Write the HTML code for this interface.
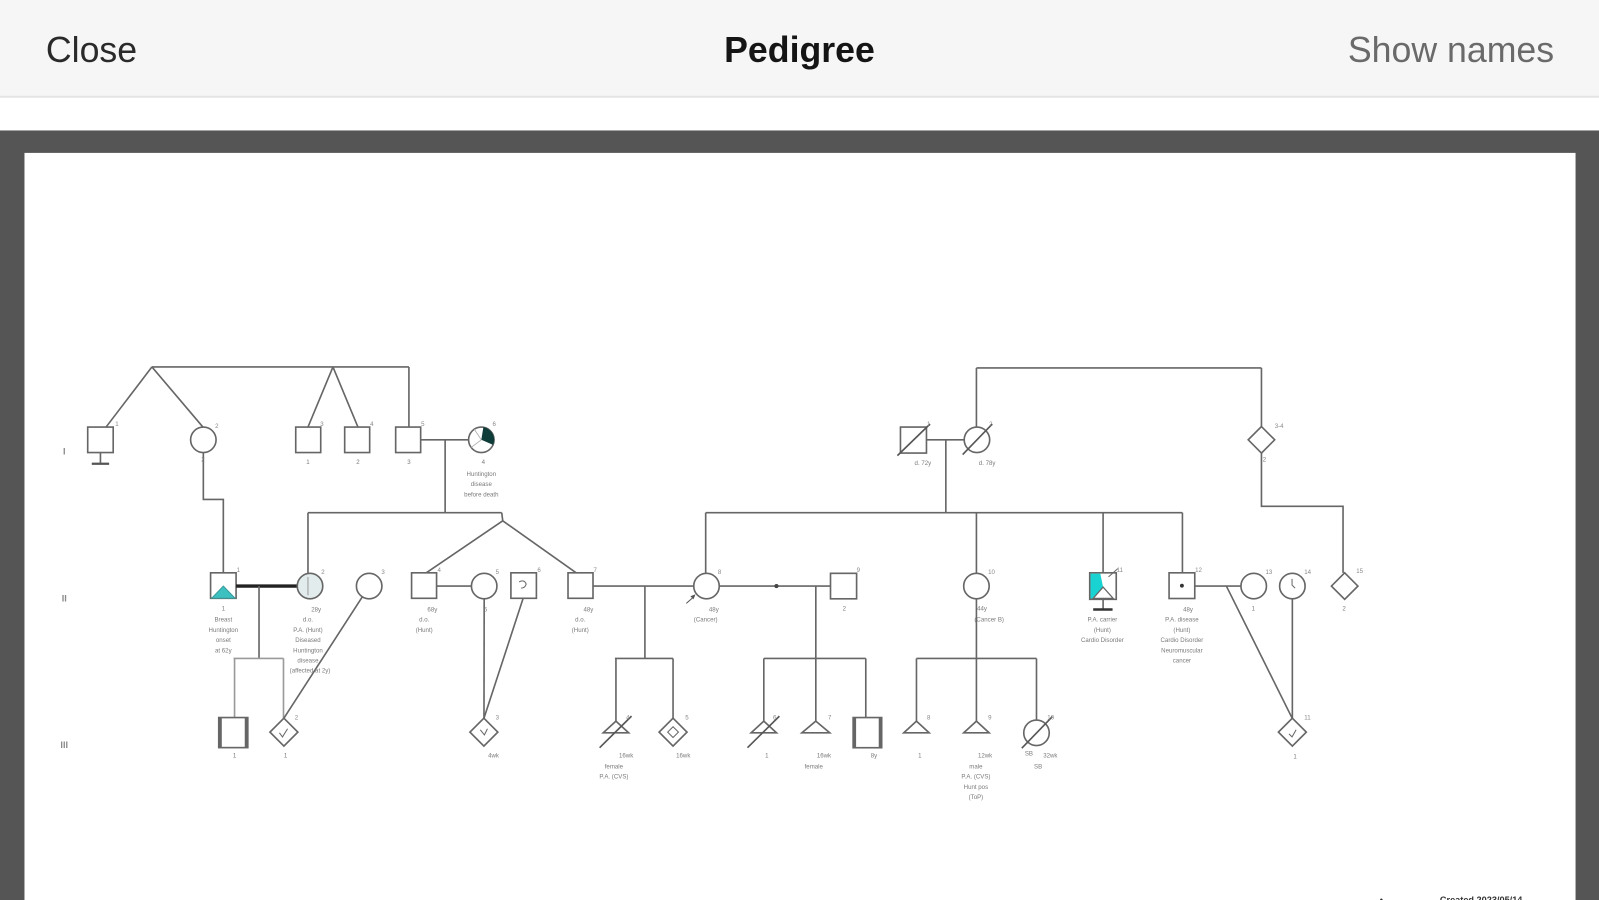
<!DOCTYPE html>
<html><head><meta charset="utf-8"><style>
html,body{margin:0;padding:0;background:#fff;overflow:hidden}
svg{display:block}
</style></head><body>
<svg width="1599" height="900" viewBox="0 0 1568 883" preserveAspectRatio="none" xmlns="http://www.w3.org/2000/svg" font-family="Liberation Sans, sans-serif">
<!-- header -->
<rect x="0" y="0" width="1568" height="95" fill="#f6f6f6"/>
<rect x="0" y="94" width="1568" height="2" fill="#e4e4e4"/>
<rect x="0" y="96" width="1568" height="32" fill="#ffffff"/>
<text x="45" y="61" font-size="35" fill="#2a2a2a">Close</text>
<text x="784" y="61" font-size="35" font-weight="bold" fill="#151515" text-anchor="middle">Pedigree</text>
<text x="1524" y="61" font-size="35" fill="#6a6a6a" text-anchor="end">Show names</text>
<!-- frame -->
<rect x="0" y="128" width="1568" height="755" fill="#555555"/>
<rect x="24" y="150" width="1521" height="733" fill="#ffffff"/>

<!-- generation labels -->
<g font-size="9" fill="#8a8a8a" font-weight="bold" text-anchor="middle">
<text x="63" y="446">I</text><text x="63" y="590">II</text><text x="63" y="734">III</text>
</g>

<g stroke="#666" stroke-width="1.6" fill="none">
<!-- Gen I left -->
<line x1="149" y1="360" x2="401" y2="360"/>
<line x1="149" y1="360" x2="104" y2="419"/>
<line x1="149" y1="360" x2="199" y2="419"/>
<rect x="86" y="419" width="25" height="25" fill="#fff"/>
<line x1="98.5" y1="444" x2="98.5" y2="455"/>
<line x1="90" y1="455" x2="107" y2="455" stroke-width="2.2" stroke="#555"/>
<circle cx="199.4" cy="431.5" r="12.5" fill="#fff"/>
<polyline points="199.4,444 199.4,490 219,490 219,562"/>
<line x1="326.5" y1="360" x2="302" y2="419"/>
<line x1="326.5" y1="360" x2="351" y2="419"/>
<rect x="290" y="419" width="24.5" height="25" fill="#fff"/>
<rect x="338" y="419" width="24.5" height="25" fill="#fff"/>
<line x1="401" y1="360" x2="401" y2="419"/>
<rect x="388" y="419" width="24.5" height="25" fill="#fff"/>
<line x1="412.5" y1="431.5" x2="459.5" y2="431.5"/>
<circle cx="472" cy="431.5" r="12.5" fill="#fff"/>
<line x1="436.5" y1="431.5" x2="436.5" y2="503"/>
<line x1="302" y1="503" x2="492" y2="503"/>
<line x1="302" y1="503" x2="302" y2="562.5"/>
<line x1="492" y1="503" x2="493" y2="511"/>
<line x1="493" y1="511" x2="418" y2="562"/>
<line x1="493" y1="511" x2="565" y2="562"/>

<!-- Gen I right -->
<line x1="957.5" y1="361" x2="1237" y2="361"/>
<line x1="957.5" y1="361" x2="957.5" y2="419"/>
<line x1="1237" y1="361" x2="1237" y2="418.5"/>
<rect x="883" y="419" width="25.5" height="25.5" fill="#fff"/>
<line x1="880" y1="447" x2="912" y2="416" stroke="#555"/>
<line x1="908.5" y1="431.5" x2="945.5" y2="431.5"/>
<circle cx="958" cy="431.5" r="12.5" fill="#fff"/>
<line x1="944" y1="446" x2="973" y2="416" stroke="#555"/>
<line x1="927.5" y1="431.5" x2="927.5" y2="503"/>
<polygon points="1237,418.5 1250,431.5 1237,444.5 1224,431.5" fill="#fff"/>
<polyline points="1237,444.5 1237,496.7 1317,496.7 1317,562"/>
<line x1="692" y1="503" x2="1159.5" y2="503"/>
<line x1="692" y1="503" x2="692" y2="562.5"/>
<line x1="957.5" y1="503" x2="957.5" y2="562.5"/>
<line x1="1081.7" y1="503" x2="1081.7" y2="562"/>
<line x1="1159.5" y1="503" x2="1159.5" y2="562"/>

<!-- Gen II -->
<rect x="206.5" y="562" width="25" height="25" fill="#fff"/>
<polygon points="207.5,587 219,575 230.5,587" fill="#3cc0c0" stroke="#3a9a9a" stroke-width="1"/>
<line x1="231.5" y1="575" x2="291.5" y2="575" stroke="#222" stroke-width="3.4"/>
<circle cx="304" cy="575" r="12.5" fill="#e3ecec"/>
<line x1="302" y1="566" x2="302" y2="584" stroke="#999" stroke-width="1"/>
<line x1="254" y1="575" x2="254" y2="646"/>
<g stroke="#9a9a9a">
<line x1="229" y1="646" x2="278" y2="646"/>
<line x1="230" y1="646" x2="230" y2="704"/>
<line x1="278" y1="646" x2="278" y2="704.6"/>
</g>
<circle cx="362" cy="575" r="12.5" fill="#fff"/>
<line x1="355" y1="586" x2="278.4" y2="704.6"/>
<rect x="403.6" y="562" width="24.5" height="25" fill="#fff"/>
<line x1="428" y1="575" x2="462.3" y2="575"/>
<circle cx="474.8" cy="575" r="12.5" fill="#fff"/>
<line x1="474.8" y1="587.5" x2="474.6" y2="704.6"/>
<rect x="501" y="562" width="25" height="25" fill="#fff"/>
<path d="M509,571 q5,-3 7,2 q-1,4 -5,4" stroke-width="1"/>
<line x1="513" y1="587" x2="474.6" y2="704.6"/>
<rect x="557" y="562" width="24.5" height="25" fill="#fff"/>
<line x1="581.5" y1="575" x2="680.3" y2="575"/>
<line x1="632.4" y1="575" x2="632.4" y2="646"/>
<line x1="603" y1="646" x2="660" y2="646"/>
<line x1="604" y1="646" x2="604" y2="707.5"/>
<line x1="660" y1="646" x2="660" y2="704.6"/>
<circle cx="692.8" cy="575" r="12.5" fill="#fff"/>
<line x1="705.3" y1="575" x2="814.4" y2="575"/>
<circle cx="761.4" cy="575" r="2" fill="#444" stroke="none"/>
<rect x="814.4" y="562.5" width="25.6" height="25" fill="#fff"/>
<line x1="800" y1="575" x2="800" y2="646"/>
<line x1="749" y1="646" x2="849" y2="646"/>
<line x1="749" y1="646" x2="749" y2="707.5"/>
<line x1="800" y1="646" x2="800" y2="707.5"/>
<line x1="849" y1="646" x2="849" y2="704"/>
<circle cx="957.5" cy="575" r="12.5" fill="#fff"/>
<line x1="957.5" y1="587.5" x2="957.5" y2="707.5"/>
<line x1="898.7" y1="646" x2="1016.4" y2="646"/>
<line x1="898.7" y1="646" x2="898.7" y2="707.5"/>
<line x1="1016.4" y1="646" x2="1016.4" y2="706.5"/>
<rect x="1068.6" y="562" width="26" height="26" fill="#fff"/>
<polygon points="1069.4,562.8 1079,562.8 1081.7,576 1071,587.2 1069.4,587.2" fill="#19d3d3" stroke="none"/>
<polygon points="1072,587 1081.7,576 1091.5,587" fill="#fff" stroke-width="1.2"/>
<line x1="1087" y1="566" x2="1096" y2="558" stroke-width="1"/>
<line x1="1081.7" y1="588" x2="1081.7" y2="597"/>
<line x1="1072" y1="598" x2="1091" y2="598" stroke="#333" stroke-width="2.4"/>
<rect x="1146.4" y="562" width="25.2" height="25.2" fill="#fff"/>
<circle cx="1159" cy="574.6" r="1.9" fill="#333" stroke="none"/>
<line x1="1171.6" y1="575" x2="1217" y2="575"/>
<circle cx="1229.4" cy="575" r="12.5" fill="#fff"/>
<line x1="1202.6" y1="575" x2="1267.3" y2="705"/>
<circle cx="1267.3" cy="575" r="12.5" fill="#fff"/>
<path d="M1267,568 l0,6 l3,3" stroke-width="1"/>
<line x1="1267.3" y1="587.5" x2="1267.3" y2="705"/>
<polygon points="1318.6,562 1331.6,575 1318.6,588 1305.6,575" fill="#fff"/>

<!-- Gen III -->
<rect x="214.5" y="704" width="28.5" height="29.5" fill="#fff"/>
<line x1="216" y1="704" x2="216" y2="733.5" stroke-width="3"/>
<line x1="241.5" y1="704" x2="241.5" y2="733.5" stroke-width="3"/>
<polygon points="278.4,704.6 292.1,718.3 278.4,732 264.7,718.3" fill="#fff"/>
<path d="M274,719 l3,4 l5,-8" stroke-width="1"/>
<polygon points="474.5,704.6 488.2,718.3 474.5,732 460.8,718.3" fill="#fff"/>
<path d="M471,716 l4,5 l3,-6" stroke-width="1"/>
<polygon points="604,707.5 616.5,719 591.5,719" fill="#fff"/>
<line x1="588" y1="733.6" x2="619.3" y2="702.6" stroke="#555"/>
<polygon points="660,704.6 673.7,718.3 660,732 646.3,718.3" fill="#fff"/>
<polygon points="660,713 665.3,718.3 660,723.6 654.7,718.3" stroke-width="1"/>
<polygon points="749,707.5 761.5,719 736.5,719" fill="#fff"/>
<line x1="733" y1="733.6" x2="764.3" y2="702.6" stroke="#555"/>
<polygon points="800,707.5 813.7,719 786.3,719" fill="#fff"/>
<rect x="836.6" y="704" width="28" height="29.6" fill="#fff"/>
<line x1="838" y1="704" x2="838" y2="733.6" stroke-width="3"/>
<line x1="863.2" y1="704" x2="863.2" y2="733.6" stroke-width="3"/>
<polygon points="898.7,707.5 911.2,719 886.2,719" fill="#fff"/>
<polygon points="957.5,707.5 970,719 945,719" fill="#fff"/>
<circle cx="1016.4" cy="719" r="12.5" fill="#fff"/>
<line x1="1002" y1="734" x2="1032" y2="703" stroke="#555"/>
<polygon points="1267.3,704.6 1281,718.3 1267.3,732 1253.6,718.3" fill="#fff"/>
<path d="M1264,720 l3,3 l4,-7" stroke-width="1"/>
</g>

<!-- Gen I circle 6 shading -->
<path d="M472,431.5 L474,419.1 A12.5,12.5 0 0 1 483.5,436.5 Z" fill="#0e3c39"/>
<line x1="472" y1="431.5" x2="462" y2="439" stroke="#aaa" stroke-width="0.8"/>
<line x1="472" y1="431.5" x2="465" y2="421" stroke="#aaa" stroke-width="0.8"/>

<!-- proband arrow -->
<line x1="673" y1="592" x2="681" y2="585" stroke="#555" stroke-width="1"/>
<polygon points="682,583 677,585 680,588" fill="#555"/>

<!-- small id numbers -->
<g font-size="6" fill="#888">
<text x="113" y="418">1</text><text x="211" y="420">2</text><text x="314" y="418">3</text><text x="363" y="418">4</text><text x="413" y="418">5</text><text x="483" y="418">6</text>
<text x="909" y="418">1</text><text x="970" y="418">2</text><text x="1250" y="420">3-4</text>
<text x="232" y="561">1</text><text x="315" y="563">2</text><text x="374" y="563">3</text><text x="429" y="561">4</text><text x="486" y="563">5</text><text x="527" y="561">6</text><text x="582" y="561">7</text><text x="704" y="563">8</text><text x="840" y="561">9</text><text x="969" y="563">10</text><text x="1095" y="561">11</text><text x="1172" y="561">12</text><text x="1241" y="563">13</text><text x="1279" y="563">14</text><text x="1330" y="562">15</text>
<text x="289" y="706">2</text><text x="486" y="706">3</text><text x="614" y="706">4</text><text x="672" y="706">5</text><text x="758" y="706">6</text><text x="812" y="706">7</text><text x="909" y="706">8</text><text x="969" y="706">9</text><text x="1027" y="706">10</text><text x="1279" y="706">11</text>
</g>

<!-- labels -->
<g font-size="6" fill="#7a7a7a" text-anchor="middle">
<text x="199" y="453">2</text>
<text x="302" y="455">1</text><text x="351" y="455">2</text><text x="401" y="455">3</text><text x="474" y="455">4</text>
<text x="472" y="467">Huntington</text><text x="472" y="477">disease</text><text x="472" y="487">before death</text>
<text x="905" y="456">d. 72y</text><text x="968" y="456">d. 78y</text><text x="1240" y="453">2</text>

<text x="219" y="599">1</text>
<text x="219" y="610">Breast</text><text x="219" y="620">Huntington</text><text x="219" y="630">onset</text><text x="219" y="640">at 62y</text>
<text x="310" y="600">28y</text>
<text x="302" y="610">d.o.</text><text x="302" y="620">P.A. (Hunt)</text><text x="302" y="630">Diseased</text><text x="302" y="640">Huntington</text><text x="302" y="650">disease</text><text x="304" y="660">(affected at 2y)</text>
<text x="424" y="600">68y</text><text x="416" y="610">d.o.</text><text x="416" y="620">(Hunt)</text>
<text x="476" y="600">5</text>
<text x="577" y="600">48y</text><text x="569" y="610">d.o.</text><text x="569" y="620">(Hunt)</text>
<text x="700" y="600">48y</text><text x="692" y="610">(Cancer)</text>
<text x="828" y="599">2</text>
<text x="963" y="599">44y</text><text x="970" y="610">(Cancer B)</text>
<text x="1081" y="610">P.A. carrier</text><text x="1081" y="620">(Hunt)</text><text x="1081" y="630">Cardio Disorder</text>
<text x="1165" y="600">48y</text><text x="1159" y="610">P.A. disease</text><text x="1159" y="620">(Hunt)</text><text x="1159" y="630">Cardio Disorder</text><text x="1159" y="640">Neuromuscular</text><text x="1159" y="650">cancer</text>
<text x="1229" y="599">1</text><text x="1318" y="599">2</text>

<text x="230" y="743">1</text><text x="280" y="743">1</text><text x="484" y="743">4wk</text>
<text x="614" y="743">16wk</text><text x="602" y="754">female</text><text x="602" y="764">P.A. (CVS)</text>
<text x="670" y="743">16wk</text>
<text x="752" y="743">1</text><text x="808" y="743">16wk</text><text x="798" y="754">female</text><text x="857" y="743">8y</text>
<text x="902" y="743">1</text>
<text x="966" y="743">12wk</text><text x="957" y="754">male</text><text x="957" y="764">P.A. (CVS)</text><text x="957" y="774">Hunt pos</text><text x="957" y="784">(ToP)</text>
<text x="1009" y="741">SB</text><text x="1030" y="743">32wk</text><text x="1018" y="754">SB</text>
<text x="1270" y="744">1</text>
</g>

<!-- bottom right footer text -->
<text x="1353" y="886" font-size="9" fill="#333">•</text>
<text x="1412" y="886" font-size="9" fill="#333" font-weight="bold">Created 2023/05/14</text>
</svg>
</body></html>
